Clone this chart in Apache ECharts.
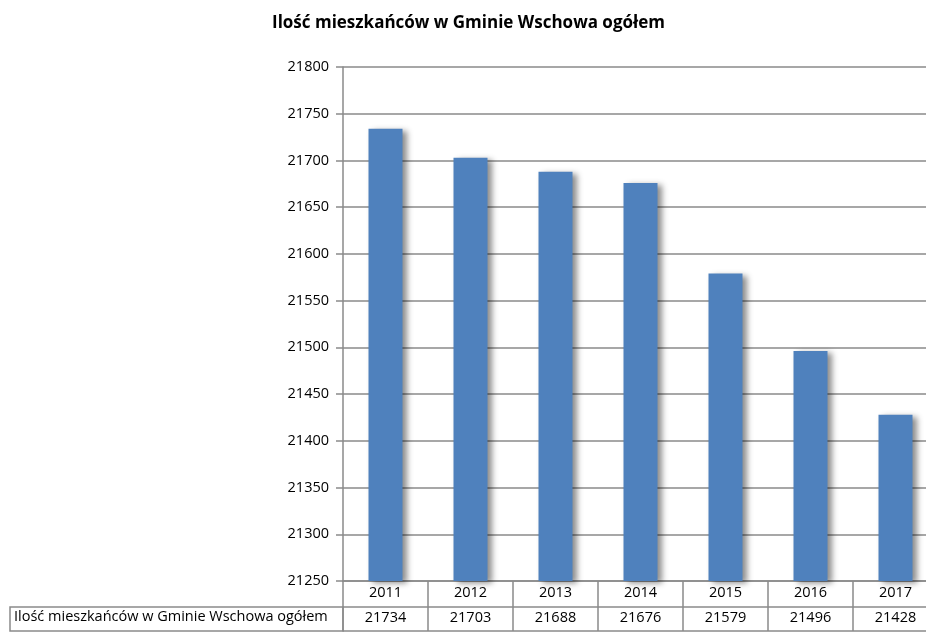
<!DOCTYPE html>
<html>
<head>
<meta charset="utf-8">
<script src="https://cdn.jsdelivr.net/npm/echarts@6/dist/echarts.min.js"></script>
<style>
  html, body { margin: 0; padding: 0; background: #fff; }
  #main { width: 926px; height: 632px; }
</style>
</head>
<body>
<div id="main"></div>
<script>
// dane z wykresu
var years = ['2011', '2012', '2013', '2014', '2015', '2016', '2017'];
var residents = [21734, 21703, 21688, 21676, 21579, 21496, 21428];
var seriesName = 'Ilość mieszkańców w Gminie Wschowa ogółem';
var yTicks = { min: 21250, max: 21800, step: 50 };

var font = 'Open Sans';
var gray = '#8a8a8a';

var chart = echarts.init(document.getElementById('main'));
chart.setOption({
  animation: false,
  title: {
    text: seriesName,
    left: 267,
    top: 10,
    textStyle: { fontFamily: font, fontSize: 17, fontWeight: 'bold', color: '#000' }
  },
  // obszar wykresu wychodzi poza prawą krawędź (jak w oryginale)
  grid: { left: 343, width: 595, top: 67, bottom: 51, outerBoundsMode: 'none', containLabel: false },
  xAxis: [
    {
      type: 'category',
      data: years,
      position: 'bottom',
      axisLine: { lineStyle: { color: gray, width: 1.5 } },
      axisTick: { show: true, interval: 0, length: 50, lineStyle: { color: gray, width: 1.5 } },
      axisLabel: { interval: 0, margin: 4, fontFamily: font, fontSize: 14.5, color: '#000' }
    },
    {
      type: 'category',
      data: residents.map(String),
      position: 'bottom',
      offset: 26,
      axisLine: { lineStyle: { color: gray, width: 1.5 } },
      axisTick: { show: false },
      axisLabel: { interval: 0, margin: 3, fontFamily: font, fontSize: 14.5, color: '#000' }
    },
    {
      type: 'category',
      data: years,
      position: 'bottom',
      offset: 50,
      axisLine: { lineStyle: { color: gray, width: 1.5 } },
      axisTick: { show: false },
      axisLabel: { show: false }
    }
  ],
  yAxis: {
    type: 'value',
    min: yTicks.min,
    max: yTicks.max,
    interval: yTicks.step,
    axisLine: { show: true, lineStyle: { color: gray, width: 1.5 } },
    axisTick: { show: true, length: 7, lineStyle: { color: gray, width: 1.5 } },
    axisLabel: {
      margin: 14,
      fontFamily: font,
      fontSize: 14.5,
      color: '#000',
      formatter: function (v) { return String(v); }
    },
    splitLine: { lineStyle: { color: gray, width: 1.5 } }
  },
  graphic: [
    {
      type: 'rect',
      shape: { x: 10, y: 607, width: 333, height: 24 },
      style: { fill: '#fff', stroke: gray, lineWidth: 1.5 }
    },
    {
      type: 'text',
      left: 14,
      top: 609,
      style: { text: seriesName, fontFamily: font, fontSize: 14.5, fill: '#000' }
    }
  ],
  series: [
    {
      name: seriesName,
      type: 'bar',
      data: residents,
      barWidth: '40%',
      itemStyle: {
        color: '#4f81bd',
        shadowColor: 'rgba(0,0,0,0.45)',
        shadowBlur: 6,
        shadowOffsetX: 4,
        shadowOffsetY: 2
      }
    }
  ]
});
</script>
</body>
</html>
